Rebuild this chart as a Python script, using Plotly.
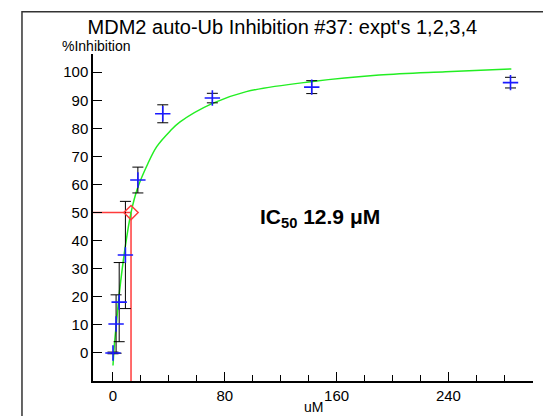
"""MDM2 auto-Ub inhibition dose-response (Plotly)"""

import plotly.graph_objects as go

# ─── Data ─────────────────────────────────────────────────────────────────────
conc_uM = [0, 2.22, 4.44, 8.89, 17.8, 35.6, 71.1, 142.2, 284.4]
inhibition = [0, 10.3, 18.1, 34.9, 61.6, 85.2, 90.8, 94.7, 96.3]
inhibition_err = [0.3, 10.4, 14.1, 19.1, 4.6, 3.2, 1.7, 2.3, 1.9]

# fitted curve
fit_x = [0, 1, 2.35, 4.7, 8.4, 12.9, 17.8, 25, 31.3, 40.8, 48, 71.2, 95.4, 142.9, 190.4, 238, 285]
fit_y = [-4.5, 3, 10, 22, 36.5, 50, 59, 67.5, 73.5, 79, 82.3, 88.9, 93.1, 96.7, 99.0, 100.2, 101.2]

ic50 = 12.9
half_inhib = 50

X_RANGE = [-14.3, 300.5]
Y_RANGE = [-10, 106.5]

FONT = "Arial, Liberation Sans, sans-serif"
RED = "#ff3b3b"

fig = go.Figure()

# IC50 guide lines + marker
fig.add_trace(go.Scatter(x=[X_RANGE[0], ic50], y=[half_inhib, half_inhib], mode="lines",
                         line=dict(color=RED, width=1.5), hoverinfo="skip"))
fig.add_trace(go.Scatter(x=[ic50, ic50], y=[half_inhib, Y_RANGE[0]], mode="lines",
                         line=dict(color=RED, width=1.5), hoverinfo="skip"))

# fit
fig.add_trace(go.Scatter(x=fit_x, y=fit_y, mode="lines", line_shape="spline",
                         line=dict(color="#22ee22", width=1.5)))

# data points
fig.add_trace(go.Scatter(
    x=conc_uM, y=inhibition, mode="markers",
    marker=dict(symbol="cross-thin", size=11, color="#1a1aff",
                line=dict(color="#1a1aff", width=1.6)),
    error_y=dict(type="data", array=inhibition_err, visible=True,
                 color="black", thickness=1, width=5.5),
))

fig.add_trace(go.Scatter(x=[ic50], y=[half_inhib], mode="markers",
                         marker=dict(symbol="diamond-open", size=11, color=RED,
                                     line=dict(color=RED, width=1.5))))

fig.update_layout(
    width=543, height=416,
    margin=dict(l=93, r=10, t=54, b=35),
    paper_bgcolor="white", plot_bgcolor="white",
    showlegend=False,
    font=dict(family=FONT, size=15, color="black"),
    title=dict(text="MDM2 auto-Ub Inhibition #37: expt's 1,2,3,4",
               font=dict(family=FONT, size=20, color="black"),
               x=0.52, xanchor="center", y=0.935, yanchor="middle"),
    annotations=[
        dict(text="%Inhibition", xref="paper", yref="paper", x=0.009, y=1.025,
             showarrow=False, font=dict(size=14), xanchor="center", yanchor="middle"),
        dict(text="uM", xref="paper", yref="paper", x=0.5, y=-0.079,
             showarrow=False, font=dict(size=14), xanchor="center", yanchor="middle"),
        dict(text="<b>IC<sub>50</sub> 12.9 μM</b>", x=148.4, y=48,
             showarrow=False, font=dict(size=21), xanchor="center", yanchor="middle"),
    ],
    shapes=[
        # outer frame (left and top edges)
        dict(type="path", xref="paper", yref="paper",
             path="M -0.1614,-0.2 L -0.1614,1.129 L 1.1,1.129",
             line=dict(color="#333333", width=1.5)),
    ],
)

fig.update_xaxes(range=X_RANGE, showgrid=False, zeroline=False,
                 showline=True, linecolor="black", linewidth=1.5,
                 ticks="inside", ticklen=9, tickcolor="black", tickwidth=1.2,
                 tickvals=[0, 80, 160, 240],
                 minor=dict(dtick=20, tick0=0, ticks="inside", ticklen=6,
                            tickcolor="black", tickwidth=1.2, showgrid=False))
fig.update_yaxes(range=Y_RANGE, showgrid=False, zeroline=False,
                 showline=True, linecolor="black", linewidth=1.5,
                 ticks="inside", ticklen=9, tickcolor="black", tickwidth=1.2,
                 tickvals=list(range(0, 101, 10)))

fig.write_html("out.html", config={"displayModeBar": False},
               post_script="document.body.style.margin='0';")
